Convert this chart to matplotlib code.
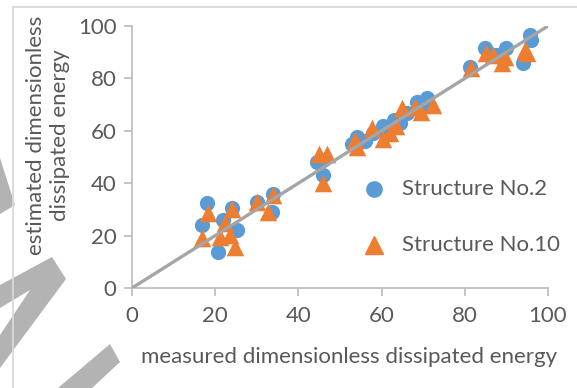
import matplotlib.pyplot as plt
from matplotlib.patches import Polygon
from matplotlib.lines import Line2D

# Structure No.2 (blue circles)
s2_measured = [16.8, 18.0, 20.7, 21.9, 24.0, 25.2, 30.0, 33.6, 34.0, 44.5, 46.0, 46.0,
               53.0, 54.0, 56.0, 58.0, 60.3, 61.0, 63.0, 64.5, 66.0, 68.5, 70.0, 71.0,
               81.3, 84.9, 87.5, 90.0, 94.0, 95.7, 96.0]
s2_estimated = [24.0, 32.5, 13.7, 26.0, 30.5, 22.0, 33.0, 29.0, 36.0, 48.0, 49.0, 43.0,
                55.0, 57.5, 56.0, 59.0, 62.0, 60.0, 64.0, 63.0, 66.8, 71.0, 69.0, 72.5,
                84.4, 91.6, 89.0, 91.6, 86.0, 96.6, 94.6]

# Structure No.10 (orange triangles)
s10_measured = [16.8, 18.3, 21.2, 22.4, 23.6, 24.0, 24.8, 30.0, 32.7, 34.0, 45.0, 46.8,
                46.0, 54.0, 53.6, 57.7, 60.3, 62.0, 63.5, 65.0, 68.0, 69.5, 72.4,
                81.5, 85.0, 86.8, 89.0, 89.7, 94.5, 95.0]
s10_estimated = [19.0, 28.6, 19.5, 24.8, 20.2, 30.0, 15.6, 33.0, 29.0, 35.5, 51.0, 51.0,
                 40.0, 54.0, 56.5, 61.0, 57.0, 59.0, 62.0, 68.7, 69.0, 67.0, 70.0,
                 84.0, 89.7, 89.0, 86.0, 88.0, 91.0, 89.6]

blue = '#5b9bd5'
orange = '#ed7d31'
txt = '#595959'
fs = 16
plt.rcParams['font.family'] = ['Lato', 'DejaVu Sans']

fig = plt.figure(figsize=(5.77, 3.88), dpi=100)
W, H = 577, 388
ax = fig.add_axes([132 / W, 1 - 288 / H, 416 / W, 262 / H])

ax.scatter(s2_measured, s2_estimated, s=120, marker='o', color=blue, zorder=2, linewidths=0)
ax.scatter(s10_measured, s10_estimated, s=160, marker='^', color=orange, zorder=3, linewidths=0)
ax.plot([0, 100], [0, 100], color='#a5a5a5', lw=2.4, zorder=4, solid_capstyle='butt')

ax.set_xlim(0, 100)
ax.set_ylim(0, 100)
ax.set_xticks(range(0, 101, 20))
ax.set_yticks(range(0, 101, 20))
for s in ['top', 'right']:
    ax.spines[s].set_visible(False)
for s in ['left', 'bottom']:
    ax.spines[s].set_color('#bfbfbf')
    ax.spines[s].set_linewidth(1.3)
ax.tick_params(colors='#bfbfbf', labelcolor=txt, labelsize=fs, length=6, width=1.3)
ax.tick_params(axis='x', pad=7)
ax.tick_params(axis='y', pad=5)

fig.text(349 / W, 1 - 357 / H, 'measured dimensionless dissipated energy',
         ha='center', va='center', color=txt, fontsize=fs)
fig.text(48 / W, 1 - 135 / H, 'estimated dimensionless\ndissipated energy',
         ha='center', va='center', rotation=90, color=txt, fontsize=fs,
         multialignment='center', linespacing=1.2, zorder=5)

# legend
fig.add_artist(Line2D([374 / W], [1 - 189 / H], marker='o', color=blue, markersize=11,
                      linestyle='none', transform=fig.transFigure))
fig.add_artist(Line2D([374 / W], [1 - 245 / H], marker='^', color=orange, markersize=12.5,
                      linestyle='none', transform=fig.transFigure))
fig.text(402 / W, 1 - 189 / H, 'Structure No.2', ha='left', va='center', color=txt, fontsize=fs)
fig.text(402 / W, 1 - 245 / H, 'Structure No.10', ha='left', va='center', color=txt, fontsize=fs)

# outer frame lines
fig.add_artist(Line2D([13 / W, 1], [1 - 7 / H, 1 - 7 / H], color='#d9d9d9', lw=1.3,
                      transform=fig.transFigure))
fig.add_artist(Line2D([13 / W, 13 / W], [0, 1 - 7 / H], color='#d9d9d9', lw=1.3,
                      transform=fig.transFigure))

# gray watermark strokes on the left
shapes = [
    [(0, 158), (15, 205), (0, 214)],
    [(0, 285), (52, 257), (66, 279), (0, 368), (0, 335), (30, 290), (0, 308)],
    [(58, 388), (110, 344), (120, 362), (92, 388)],
]
for pts in shapes:
    fig.add_artist(Polygon([(x / W, 1 - y / H) for x, y in pts], closed=True,
                           color='#b3b3b3', lw=0, transform=fig.transFigure, zorder=0))

fig.savefig('out.png', dpi=100)
